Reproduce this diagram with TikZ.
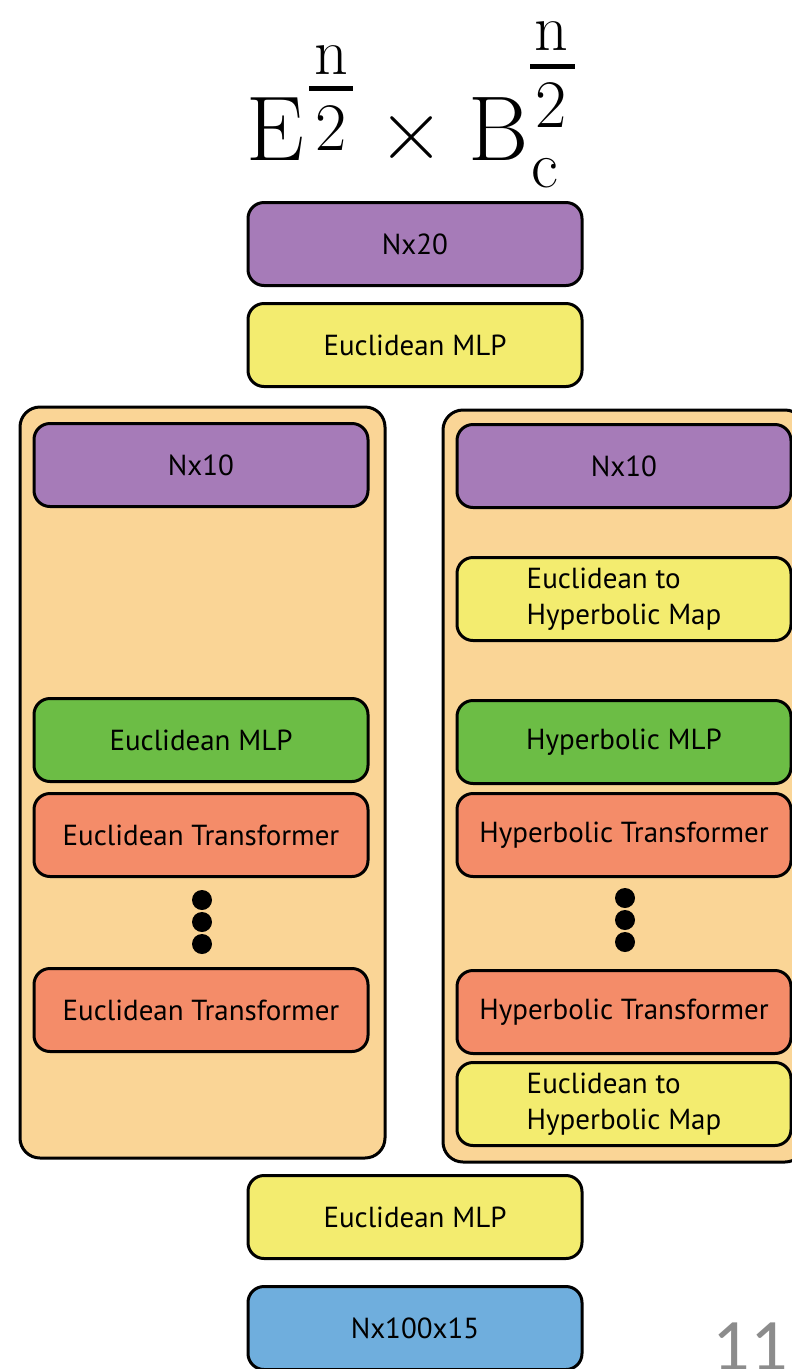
\documentclass[tikz,border=0pt]{standalone}
\usepackage{fontspec}
\newfontfamily\labelfont{PT Sans}
\newfontfamily\pagefont{Carlito}
\definecolor{lilac}{HTML}{A67BB8}
\definecolor{lemon}{HTML}{F3EC6F}
\definecolor{peach}{HTML}{FAD596}
\definecolor{leaf}{HTML}{6CBD45}
\definecolor{salmon}{HTML}{F48C69}
\definecolor{sky}{HTML}{6FAEDD}
\begin{document}
\begin{tikzpicture}[x=1pt,y=-1pt,
  blk/.style={draw=black, line width=3pt, rounded corners=16pt,
    minimum width=334pt, minimum height=83pt, inner sep=0pt,
    font=\labelfont\fontsize{29}{36}\selectfont, align=left},
  frame/.style={draw=black, line width=3pt, rounded corners=20pt, fill=peach, inner sep=0pt},
  dot/.style={circle, fill=black, minimum size=20pt, inner sep=0pt},
  big/.style={inner sep=0pt, font=\fontsize{92}{92}\selectfont},
  numer/.style={inner sep=0pt, anchor=base, font=\fontsize{66}{66}\selectfont},
  denom/.style={inner sep=0pt, anchor=base, font=\fontsize{68}{68}\selectfont}]
\useasboundingbox (0,0) rectangle (792,1369);
\clip (0,0) rectangle (792,1369);

% formula heading
\node[big, anchor=base west] (E) at (246,160) {E};
\node[numer] (n1) at (331,74) {n};
\draw[line width=5pt] (309,88) -- (353,88);
\node[denom] (d1) at (331,150) {2};
\node[inner sep=0pt, anchor=base, font=\fontsize{92}{92}\selectfont] (times) at (412,160) {×};
\node[big, anchor=base west] (B) at (468,160) {B};
\node[numer] (n2) at (551,50) {n};
\draw[line width=5pt] (530,66) -- (575,66);
\node[denom] (d2) at (551,127) {2};
\node[numer] (c) at (545,187) {c};

% top stack
\node[blk, fill=lilac] (top20) at (415,244) {Nx20};
\node[blk, fill=lemon] (topmlp) at (415,345) {Euclidean MLP};

% branch containers
\node[frame, minimum width=365pt, minimum height=751pt] (lbranch) at (202.5,782.5) {};
\node[frame, minimum width=362pt, minimum height=752pt] (rbranch) at (624,786) {};

% Euclidean branch
\node[blk, fill=lilac] (l10) at (201,465) {Nx10};
\node[blk, fill=leaf] (lmlp) at (201,740) {Euclidean MLP};
\node[blk, fill=salmon] (ltr1) at (201,835) {Euclidean Transformer};
\node[dot] (ld1) at (202,900) {};
\node[dot] (ld2) at (202,922) {};
\node[dot] (ld3) at (202,944) {};
\node[blk, fill=salmon] (ltr2) at (201,1010) {Euclidean Transformer};

% Hyperbolic branch
\node[blk, fill=lilac] (r10) at (624,466) {Nx10};
\node[blk, fill=lemon] (rmap1) at (624,599) {Euclidean to\\Hyperbolic Map};
\node[blk, fill=leaf] (rmlp) at (624,742) {Hyperbolic MLP};
\node[blk, fill=salmon] (rtr1) at (624,835) {Hyperbolic Transformer};
\node[dot] (rd1) at (625,898) {};
\node[dot] (rd2) at (625,920) {};
\node[dot] (rd3) at (625,942) {};
\node[blk, fill=salmon] (rtr2) at (624,1012) {Hyperbolic Transformer};
\node[blk, fill=lemon] (rmap2) at (624,1104) {Euclidean to\\Hyperbolic Map};

% bottom stack
\node[blk, fill=lemon] (botmlp) at (415,1217) {Euclidean MLP};
\node[blk, fill=sky] (out) at (415,1328) {Nx100x15};

% page number
\node[inner sep=0pt, anchor=base east, text=black!45, font=\pagefont\fontsize{74}{74}\selectfont] (pg) at (788,1370) {11};
\end{tikzpicture}
\end{document}
